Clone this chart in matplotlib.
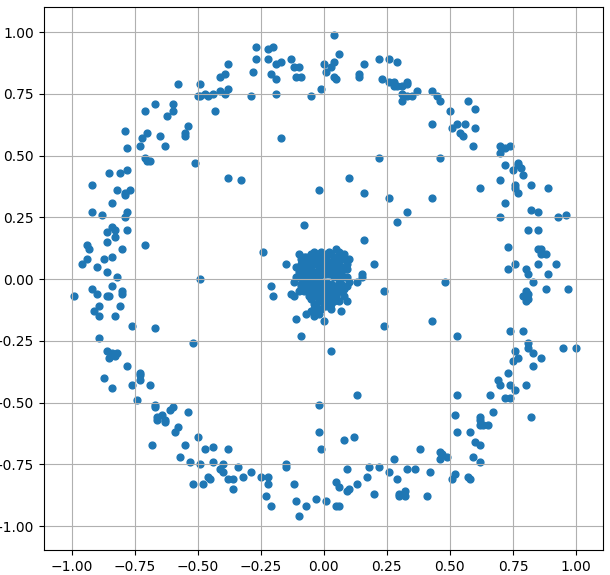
import matplotlib
matplotlib.use('Agg')
import matplotlib.pyplot as plt

# outer ring points
ring_x = [-0.38, -0.39, -0.41, -0.49, -0.58, -0.41, -0.38, -0.39, -0.44, -0.47, -0.46, -0.49, -0.50, -0.43,
          -0.67, -0.60, -0.60, -0.62, -0.71, -0.54, -0.55, -0.55, -0.79, -0.70, -0.72, -0.65, -0.63, -0.73,
          -0.78, -0.71, -0.70, -0.69, -0.51, -0.85, -0.81, -0.78, -0.38, -0.92, -0.82, -0.77,
          0.04, -0.27, -0.20, -0.22, -0.27, -0.22, -0.28, -0.21, -0.19, -0.17, -0.13, -0.12, -0.10, -0.19,
          -0.11, -0.09, -0.29, -0.19, -0.05, -0.01, 0.00, 0.01, 0.03, 0.04, 0.06, 0.04, 0.05, 0.14, 0.14,
          0.16, 0.22, 0.26, 0.29, 0.23, 0.26, 0.28, 0.28, 0.29, 0.31, 0.33, 0.33, 0.31, 0.33, 0.35, 0.37,
          0.31, -0.17, 0.22, -0.33, 0.10, -0.02, 0.16,
          0.43, 0.45, 0.46, 0.57, 0.50, 0.60, 0.43, 0.53, 0.56, 0.51, 0.60, 0.54, 0.55, 0.59, 0.70, 0.72,
          0.74, 0.70, 0.46, 0.77, 0.77, 0.78, 0.75, 0.72, 0.79, 0.70, 0.82, 0.89, 0.62, 0.76, 0.76, 0.77,
          -0.79, -0.79, -0.84, -0.92, -0.88, -0.78, -0.79, -0.71, -0.84, -0.83, -0.86, -0.78, -0.83, -0.94,
          -0.93, -0.86, -0.80, -0.94, -0.96, -0.87, -0.84, -0.90, -0.86, -0.82, -0.49, -0.92, -0.84, -0.99,
          -0.90, -0.86, -0.85, -0.80, -0.80, -0.89, -0.81, -0.91, -0.89, -0.83, -0.76, -0.67, -0.89, -0.52,
          -0.86, -0.82, -0.83, -0.84, -0.85, -0.78, -0.73,
          -0.87, -0.84, -0.73, -0.73, -0.76, -0.69, -0.74, -0.67, -0.67, -0.64, -0.66, -0.66, -0.63, -0.63,
          -0.60, -0.61, -0.54, -0.58, -0.59, -0.68, -0.50, -0.55, -0.57, -0.53, -0.47, -0.44, -0.38, -0.49,
          -0.44, -0.40, -0.41, -0.40, -0.46, -0.45, -0.52, -0.48, -0.38, -0.36, -0.36,
          -0.34, -0.32, -0.29, -0.25, -0.22, -0.22, -0.23, -0.21, -0.15, -0.15, -0.12, -0.11, -0.10, -0.07,
          -0.03, -0.02, -0.02, -0.01, 0.01, 0.05, 0.06, 0.05, 0.06, 0.08, 0.09, 0.09, 0.10, 0.12, 0.13,
          0.13, 0.17, 0.18, 0.20, 0.22, 0.26, 0.28, 0.29, 0.30, 0.30, 0.32, 0.32, 0.33, 0.36, 0.38,
          0.73, 0.69, 0.70, 0.74, 0.76, 0.80, 0.53, 0.66, 0.72, 0.74, 0.67, 0.82, 0.52, 0.62, 0.62, 0.62,
          0.63, 0.65, 0.53, 0.58, 0.60, 0.62, 0.46, 0.47, 0.49, 0.46, 0.59, 0.62, 0.42, 0.52, 0.51, 0.57,
          0.58, 0.41,
          0.43, 0.72, 0.82, 0.85, 0.93, 0.96, 0.70, 0.81, 0.85, 0.73, 0.85, 0.86, 0.86, 0.88, 0.92, 0.85,
          0.76, 0.73, 0.80, 0.81, 0.89, 0.48, 0.83, 0.88, 0.97, 0.80, 0.81, 0.79, 0.81, 0.80, 0.43, 0.53,
          0.74, 0.79, 0.81, 0.81, 0.76, 0.83, 0.95, 1.00, 0.86, 0.77, 0.75, 0.83,
          0.26, 0.33, 0.29, -0.08, 0.16, -0.24, -0.04, -0.15, 0.20, -0.21, -0.20, 0.24, 0.15, 0.15, 0.13,
          -0.13, -0.12, -0.11, -0.07, -0.04, -0.05, -0.02, 0.00, 0.07, 0.09, 0.24, -0.09, 0.03]
ring_y = [0.87, 0.83, 0.82, 0.79, 0.79, 0.76, 0.77, 0.75, 0.75, 0.75, 0.74, 0.74, 0.74, 0.68,
          0.71, 0.71, 0.68, 0.66, 0.68, 0.62, 0.59, 0.58, 0.60, 0.59, 0.57, 0.58, 0.54, 0.54,
          0.53, 0.49, 0.48, 0.48, 0.47, 0.43, 0.43, 0.44, 0.41, 0.38, 0.36, 0.36,
          0.99, 0.94, 0.94, 0.93, 0.89, 0.89, 0.84, 0.83, 0.87, 0.88, 0.89, 0.86, 0.86, 0.81,
          0.82, 0.82, 0.74, 0.75, 0.74, 0.77, 0.87, 0.84, 0.86, 0.88, 0.91, 0.82, 0.81, 0.83, 0.82,
          0.87, 0.89, 0.89, 0.88, 0.81, 0.80, 0.80, 0.78, 0.78, 0.78, 0.80, 0.79, 0.75, 0.74, 0.74, 0.76,
          0.72, 0.57, 0.49, 0.40, 0.41, 0.36, 0.35,
          0.76, 0.74, 0.72, 0.72, 0.68, 0.69, 0.63, 0.63, 0.63, 0.61, 0.61, 0.59, 0.58, 0.54, 0.54, 0.53,
          0.54, 0.51, 0.49, 0.47, 0.46, 0.45, 0.44, 0.46, 0.42, 0.40, 0.38, 0.37, 0.37, 0.38, 0.37, 0.35,
          0.35, 0.34, 0.31, 0.27, 0.26, 0.27, 0.25, 0.14, 0.21, 0.20, 0.19, 0.20, 0.17, 0.14,
          0.12, 0.15, 0.12, 0.08, 0.06, 0.08, 0.09, 0.05, 0.03, 0.01, 0.00, -0.04, -0.03, -0.07,
          -0.06, -0.07, -0.07, -0.05, -0.06, -0.11, -0.11, -0.13, -0.15, -0.15, -0.19, -0.20, -0.24, -0.26,
          -0.29, -0.30, -0.31, -0.30, -0.32, -0.35, -0.38,
          -0.40, -0.44, -0.39, -0.41, -0.43, -0.43, -0.49, -0.52, -0.51, -0.55, -0.56, -0.57, -0.57, -0.58,
          -0.52, -0.53, -0.54, -0.60, -0.62, -0.67, -0.64, -0.67, -0.72, -0.74, -0.69, -0.68, -0.69, -0.75,
          -0.74, -0.75, -0.77, -0.78, -0.80, -0.81, -0.83, -0.83, -0.81, -0.81, -0.85,
          -0.76, -0.80, -0.78, -0.80, -0.80, -0.83, -0.88, -0.92, -0.76, -0.75, -0.83, -0.90, -0.96, -0.92,
          -0.89, -0.51, -0.62, -0.69, -0.90, -0.82, -0.84, -0.92, -0.92, -0.65, -0.77, -0.86, -0.85, -0.64, -0.47,
          -0.83, -0.80, -0.76, -0.87, -0.76, -0.78, -0.73, -0.81, -0.87, -0.88, -0.86, -0.88, -0.77, -0.77, -0.69,
          -0.38, -0.41, -0.43, -0.43, -0.45, -0.43, -0.47, -0.47, -0.48, -0.48, -0.54, -0.56, -0.55, -0.57, -0.56, -0.59,
          -0.59, -0.59, -0.62, -0.62, -0.66, -0.67, -0.70, -0.71, -0.72, -0.73, -0.72, -0.74, -0.78, -0.79, -0.81, -0.80,
          -0.81, -0.88,
          0.33, 0.31, 0.28, 0.27, 0.25, 0.26, 0.25, 0.20, 0.20, 0.13, 0.12, 0.12, 0.10, 0.10, 0.06, 0.06,
          0.06, 0.04, 0.04, 0.02, 0.02, -0.01, -0.01, -0.04, -0.04, -0.05, -0.06, -0.07, -0.08, -0.09, -0.17, -0.23,
          -0.21, -0.21, -0.26, -0.28, -0.29, -0.30, -0.28, -0.28, -0.32, -0.32, -0.33, -0.35,
          0.33, 0.27, 0.23, 0.22, 0.16, 0.11, 0.11, 0.06, 0.06, -0.03, -0.07, -0.05, 0.02, 0.01, -0.01,
          -0.06, -0.07, -0.16, -0.14, -0.15, -0.13, -0.14, -0.17, -0.13, -0.09, -0.19, -0.23, -0.29]

# inner cluster points (dense blob, estimated)
core_x = [-0.10, -0.08, -0.09, -0.07, -0.03, 0.02, 0.05, 0.06, 0.08, 0.10, 0.04, 0.08, 0.08, 0.10, 0.09,
          0.08, 0.06, 0.03, 0.01, -0.04, -0.03, -0.06, -0.10, -0.12, -0.11, -0.10, -0.09,
          -0.07, -0.05, -0.03, -0.01, 0.01, 0.03, 0.05, 0.06,
          -0.08, -0.06, -0.04, -0.02, 0.00, 0.02, 0.04, 0.06,
          -0.08, -0.06, -0.04, -0.02, 0.00, 0.02, 0.04, 0.06,
          -0.07, -0.05, -0.03, -0.01, 0.01, 0.03, 0.05, 0.07,
          -0.06, -0.04, -0.02, 0.00, 0.02, 0.04, 0.06,
          -0.03, -0.01, 0.01, 0.03, 0.05, -0.02, 0.00,
          -0.05, 0.00, 0.07, -0.11, 0.09, -0.01, 0.03,
          -0.09, -0.07, -0.05, -0.02, 0.01, 0.03, 0.06, 0.08,
          -0.09, -0.07, -0.05, -0.02, 0.00, 0.02, 0.04, 0.07, 0.09,
          -0.10, -0.07, -0.05, -0.03, -0.01, 0.01, 0.03, 0.05, 0.07, 0.09,
          -0.09, -0.06, -0.04, -0.02, 0.00, 0.02, 0.04, 0.06, 0.08,
          -0.08, -0.05, -0.03, -0.01, 0.01, 0.03, 0.05, 0.07,
          -0.05, -0.02, 0.00, 0.02, 0.04, -0.04, -0.01, 0.02]
core_y = [0.10, 0.09, 0.06, 0.07, 0.08, 0.11, 0.12, 0.11, 0.10, 0.08, 0.09, 0.04, 0.01, -0.01, -0.03,
          -0.07, -0.09, -0.10, -0.11, -0.10, -0.11, -0.07, -0.05, -0.01, 0.01, 0.03, -0.03,
          0.04, 0.05, 0.06, 0.07, 0.08, 0.07, 0.08, 0.06,
          0.02, 0.02, 0.03, 0.04, 0.05, 0.05, 0.04, 0.03,
          -0.01, 0.00, 0.01, 0.01, 0.02, 0.02, 0.01, 0.00,
          -0.03, -0.02, -0.02, -0.01, -0.01, -0.02, -0.03, -0.02,
          -0.05, -0.05, -0.04, -0.04, -0.05, -0.05, -0.05,
          -0.07, -0.07, -0.08, -0.07, -0.07, -0.09, -0.10,
          0.08, 0.09, 0.09, 0.05, 0.06, 0.11, -0.12,
          0.08, 0.09, 0.10, 0.09, 0.10, 0.10, 0.09, 0.08,
          0.04, 0.06, 0.07, 0.06, 0.06, 0.07, 0.06, 0.05, 0.04,
          0.01, 0.01, 0.02, 0.02, 0.03, 0.03, 0.03, 0.02, 0.02, 0.01,
          -0.02, -0.02, -0.01, -0.02, -0.02, -0.03, -0.03, -0.02, -0.04,
          -0.05, -0.04, -0.04, -0.05, -0.06, -0.05, -0.06, -0.05,
          -0.08, -0.08, -0.08, -0.09, -0.09, -0.12, -0.12, -0.11]

fig = plt.figure(figsize=(6.1, 5.75), dpi=100)
ax = fig.add_axes([0.072, 0.0435, 0.9165, 0.944])
ax.scatter(ring_x + core_x, ring_y + core_y, s=24, color='#1f77b4')
ax.set_xlim(-1.11, 1.107)
ax.set_ylim(-1.097, 1.101)
ax.grid(True)
fig.savefig('out.png')
plt.close(fig)
